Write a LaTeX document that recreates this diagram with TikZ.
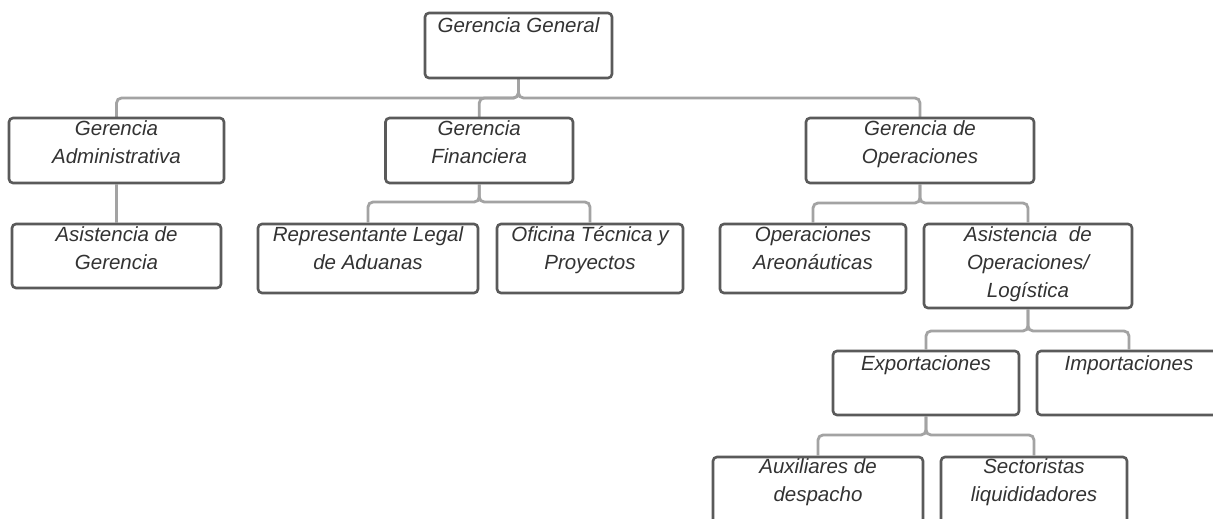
\documentclass[tikz,border=0pt]{standalone}
\usepackage{fontspec}
\setmainfont{Liberation Sans}
\definecolor{boxline}{HTML}{5A5A5A}
\definecolor{connline}{HTML}{A3A3A3}
\definecolor{txt}{HTML}{333333}
\begin{document}
\begin{tikzpicture}[x=1pt,y=-1pt,
  orgbox/.style={draw=boxline,line width=2.6pt,rounded corners=4pt,inner sep=0pt,fill=white},
  orglabel/.style={anchor=north,inner sep=0pt,align=center,text=txt,
    font=\fontsize{20.5}{28}\selectfont\itshape},
  conn/.style={draw=connline,line width=2.8pt,rounded corners=5pt}]
\useasboundingbox (0,0) rectangle (1213,519);
\fill[white] (0,0) rectangle (1213,519);
% bus levels
\coordinate (b1) at (0,98);
\coordinate (b2) at (0,202);
\coordinate (b3) at (0,203);
\coordinate (b4) at (0,331);
\coordinate (b5) at (0,435);
% connectors (drawn first)
\coordinate (ggs) at (518.5,78);
\coordinate (gan) at (116.5,118);
\coordinate (gfn) at (479.25,118);
\coordinate (gon) at (920,118);
\draw[conn] (ggs) -- (ggs |- b1) -| (gan);
\draw[conn] (ggs) -- (ggs |- b1) -| (gfn);
\draw[conn] (ggs) -- (ggs |- b1) -| (gon);
% boxes
\node[orgbox,minimum width=187pt,minimum height=65pt] (gg) at (518.5,45.5) {};
\node[orgbox,minimum width=215pt,minimum height=65pt] (ga) at (116.5,150.5) {};
\node[orgbox,minimum width=187.5pt,minimum height=65pt] (gf) at (479.25,150.5) {};
\node[orgbox,minimum width=228pt,minimum height=65pt] (go) at (920,150.5) {};
\node[orgbox,minimum width=209pt,minimum height=64pt] (ag) at (116.5,256) {};
\node[orgbox,minimum width=220pt,minimum height=69pt] (rla) at (368,258.5) {};
\node[orgbox,minimum width=186pt,minimum height=69pt] (otp) at (590,258.5) {};
\node[orgbox,minimum width=186pt,minimum height=69pt] (oa) at (813,258.5) {};
\node[orgbox,minimum width=208pt,minimum height=84pt] (aol) at (1028,266) {};
\node[orgbox,minimum width=186pt,minimum height=64pt] (exp) at (926,383) {};
\node[orgbox,minimum width=184pt,minimum height=64pt] (imp) at (1129,383) {};
\node[orgbox,minimum width=210pt,minimum height=70pt] (aux) at (818,492) {};
\node[orgbox,minimum width=186pt,minimum height=70pt] (sec) at (1034,492) {};
% lower connectors
\draw[conn] (ga.south) -- (ag.north);
\draw[conn] (gf.south) -- (gf.south |- b2) -| (rla.north);
\draw[conn] (gf.south) -- (gf.south |- b2) -| (otp.north);
\draw[conn] (go.south) -- (go.south |- b3) -| (oa.north);
\draw[conn] (go.south) -- (go.south |- b3) -| (aol.north);
\draw[conn] (aol.south) -- (aol.south |- b4) -| (exp.north);
\draw[conn] (aol.south) -- (aol.south |- b4) -| (imp.north);
\draw[conn] (exp.south) -- (exp.south |- b5) -| (aux.north);
\draw[conn] (exp.south) -- (exp.south |- b5) -| (sec.north);
% labels
\node[orglabel] (tgg) at ([yshift=-5pt]gg.north) {\rule{0pt}{16pt}Gerencia General};
\node[orglabel] (tga) at ([yshift=-3pt]ga.north) {\rule{0pt}{16pt}Gerencia\\Administrativa};
\node[orglabel] (tgf) at ([yshift=-3pt]gf.north) {\rule{0pt}{16pt}Gerencia\\Financiera};
\node[orglabel] (tgo) at ([yshift=-3pt]go.north) {\rule{0pt}{16pt}Gerencia de\\Operaciones};
\node[orglabel] (tag) at ([yshift=-3pt]ag.north) {\rule{0pt}{16pt}Asistencia de\\Gerencia};
\node[orglabel] (trla) at ([yshift=-3pt]rla.north) {\rule{0pt}{16pt}Representante Legal\\de Aduanas};
\node[orglabel] (totp) at ([yshift=-3pt]otp.north) {\rule{0pt}{16pt}Oficina Técnica y\\Proyectos};
\node[orglabel] (toa) at ([yshift=-3pt]oa.north) {\rule{0pt}{16pt}Operaciones\\Areonáuticas};
\node[orglabel] (taol) at ([yshift=-3pt]aol.north) {\rule{0pt}{16pt}Asistencia\ \ de\\Operaciones/\\Logística};
\node[orglabel] (texp) at ([yshift=-5pt]exp.north) {\rule{0pt}{16pt}Exportaciones};
\node[orglabel] (timp) at ([yshift=-5pt]imp.north) {\rule{0pt}{16pt}Importaciones};
\node[orglabel] (taux) at ([yshift=-2pt]aux.north) {\rule{0pt}{16pt}Auxiliares de\\despacho};
\node[orglabel] (tsec) at ([yshift=-2pt]sec.north) {\rule{0pt}{16pt}Sectoristas\\liquididadores};
\end{tikzpicture}
\end{document}
